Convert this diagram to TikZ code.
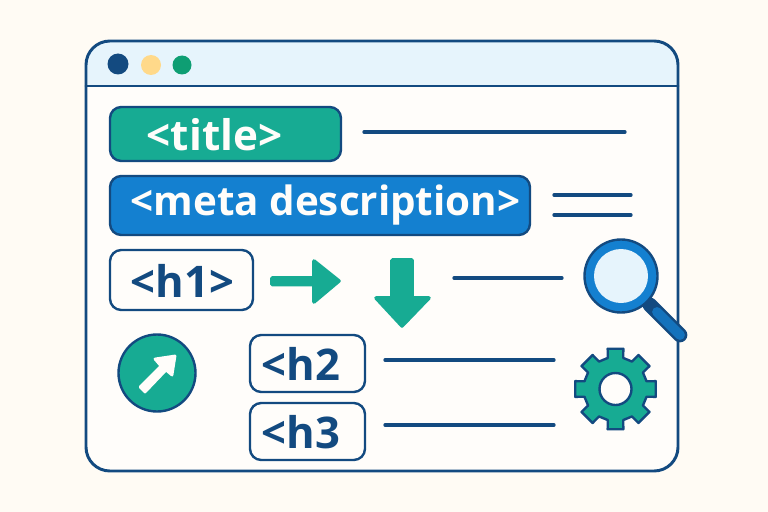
\documentclass[tikz,border=0pt]{standalone}
\usepackage{fontspec}
\setmainfont{Open Sans}
\usetikzlibrary{arrows}
\definecolor{paper}{HTML}{FFFBF4}
\definecolor{winbg}{HTML}{FFFDFA}
\definecolor{barbg}{HTML}{E6F4FC}
\definecolor{navy}{HTML}{134A80}
\definecolor{teal}{HTML}{17AB93}
\definecolor{azure}{HTML}{1480D0}
\definecolor{butter}{HTML}{FFD98A}
\definecolor{leaf}{HTML}{0E9E73}
\tikzset{
  tagbox/.style={draw=navy,line width=1.7pt,rounded corners=8pt,inner sep=0pt,fill=winbg},
  tagtext/.style={inner sep=0pt,font=\bfseries\fontsize{#1}{#1}\selectfont},
  rule/.style={draw=navy,line width=2.3pt,line cap=round},
  mark arrow/.style={fill=teal,draw=teal,line width=2.5pt,line join=round}
}
\begin{document}
\begin{tikzpicture}[line cap=round,line join=round,x=0.025cm,y=-0.025cm]
\fill[paper] (0,0) rectangle (768,512);
\useasboundingbox (0,0) rectangle (768,512);
% window
\draw[fill=winbg,draw=none,rounded corners=17pt] (86,41) rectangle (678,471);
\fill[barbg,rounded corners=17pt] (86,86) -- (86,41) -- (678,41) -- (678,86) -- cycle;
\fill[barbg] (86,65) rectangle (678,86);
\draw[navy,line width=2.1pt,rounded corners=17pt] (86,41) rectangle (678,471);
\draw[navy,line width=2.1pt] (86,86) -- (678,86);
\fill[navy] (118,64) circle (10.5);
\fill[butter] (151,65) circle (10);
\fill[leaf] (182,65) circle (9.5);
% tags
\node[tagbox,fill=teal,minimum width=231*0.025cm,minimum height=54*0.025cm] (title) at (225.5,134) {};
\node[tagtext=30,text=winbg] at (214.5,135) {<title>};
\node[tagbox,fill=azure,minimum width=420*0.025cm,minimum height=59*0.025cm] (meta) at (320,205.5) {};
\node[tagtext=28.7,text=winbg] at (325.5,205) {<meta description>};
\node[tagbox,minimum width=143*0.025cm,minimum height=60*0.025cm] (hone) at (181.5,280) {};
\node[tagtext=31,text=navy] at (182.5,281) {<h1>};
\node[tagbox,minimum width=115*0.025cm,minimum height=57*0.025cm] (htwo) at (307.5,363.5) {};
\node[tagtext=31,text=navy] at (301,364) {<h2};
\node[tagbox,minimum width=115*0.025cm,minimum height=57*0.025cm] (hthree) at (307.5,431.5) {};
\node[tagtext=31,text=navy] at (301,432) {<h3};
% rules
\draw[rule] (364,132) -- (625,132);
\draw[rule] (554,195) -- (631,195);
\draw[rule] (554,215) -- (631,215);
\draw[rule] (454,278) -- (562,278);
\draw[rule] (385,360) -- (554,360);
\draw[rule] (385,425) -- (554,425);
% arrows
\draw[mark arrow] (272,278) -- (314,278) -- (314,261) -- (339,281) -- (314,302) -- (314,284.5) -- (272,284.5) -- cycle;
\draw[mark arrow] (392,260) -- (412,260) -- (412,298) -- (429,298) -- (402,326) -- (376,298) -- (392,298) -- cycle;
\node[circle,draw=navy,fill=teal,line width=1.7pt,minimum size=77*0.025cm] (badge) at (157,373) {};
\draw[fill=winbg,draw=winbg,line width=2pt] (140,387) -- (161,366) -- (155,359) -- (175,356) -- (172,375) -- (166,370) -- (145,392) -- cycle;
% magnifier
\draw[navy,line width=10.5pt,line cap=round] (650,305) -- (680,335);
\draw[azure!75!navy,line width=7pt,line cap=round] (657,312) -- (680,335);
\draw[navy,line width=1.7pt,fill=azure] (621,276) circle (36.5);
\fill[barbg] (621,276) circle (27);
% gear
\begin{scope}[shift={(615.5,389)}]
\draw[navy,line width=1.7pt,fill=teal]
  (-14:32) \foreach \a in {0,45,...,315} {
    -- (\a-14:32) -- (\a-11:41) -- (\a+11:41) -- (\a+14:32) -- (\a+31:32)
  } -- cycle;
\draw[navy,line width=1.7pt,fill=winbg] (0,0) circle (16);
\end{scope}
\end{tikzpicture}
\end{document}
